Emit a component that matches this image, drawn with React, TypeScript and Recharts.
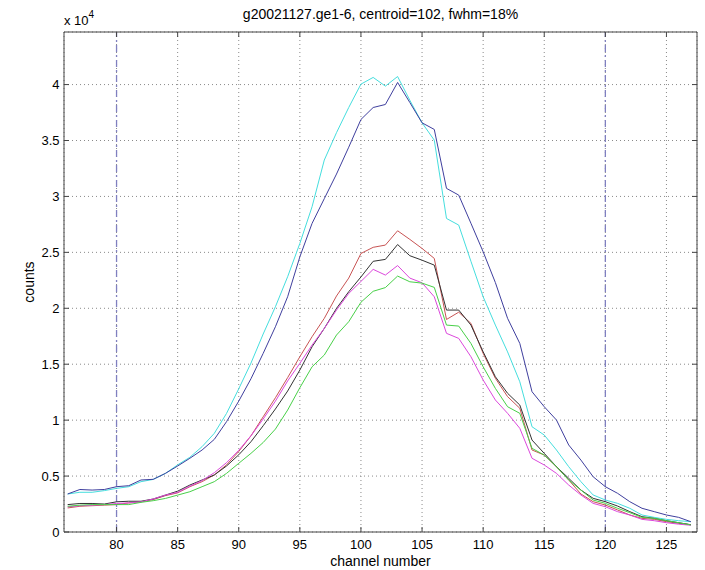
import React from 'react';
import { LineChart, Line, XAxis, YAxis, CartesianGrid, ReferenceLine } from 'recharts';

const channels = [76,77,78,79,80,81,82,83,84,85,86,87,88,89,90,91,92,93,94,95,96,97,98,99,100,101,102,103,104,105,106,107,108,109,110,111,112,113,114,115,116,117,118,119,120,121,122,123,124,125,126,127];

const cyanSeries = [3400,3550,3550,3700,3900,4050,4500,4700,5240,6000,6680,7630,8820,10600,12800,15100,17700,20140,22820,25800,29080,33250,35700,37950,40040,40640,39860,40720,38600,36580,35030,28030,27440,24200,21030,18500,16100,13430,9410,8670,7330,5840,4500,3310,2860,2560,2120,1520,1310,1130,1010,920];
const blueSeries = [3400,3800,3750,3800,4050,4140,4650,4710,5240,5900,6590,7330,8280,9860,11700,13700,15970,18350,21030,24600,27590,29800,32000,34400,36880,37950,38220,40190,38400,36580,35990,30720,30120,27600,25050,22300,19100,16860,12540,11200,10010,7780,6430,4940,4050,3460,2710,2120,1820,1520,1310,920];
const redSeries = [2150,2300,2350,2400,2450,2600,2700,2900,3250,3500,4050,4500,5100,6000,7200,8600,10300,12000,13800,15670,17460,19100,21100,22700,24900,25450,25650,26930,26160,25350,24460,19000,19650,18650,15970,13740,12100,11060,7330,6880,5840,4650,3400,2710,2410,1970,1520,1220,1130,920,770,650];
const blackSeries = [2450,2550,2550,2500,2700,2750,2750,2950,3300,3650,4200,4650,5100,5900,6900,8070,9500,11000,12600,14480,16560,18200,19990,21480,22800,24200,24370,25700,24700,24300,23860,19840,19840,18500,16110,13880,12400,11350,8220,7030,5840,4800,3750,3010,2710,2320,1820,1370,1220,1010,830,650];
const magentaSeries = [2250,2350,2400,2450,2550,2600,2700,2950,3300,3550,4100,4600,5300,6200,7300,8600,10100,11700,13500,15080,16710,18200,19840,21330,22400,23480,22970,23820,22700,22280,21030,17760,17310,15670,13590,11800,10610,9270,6590,5990,5240,4200,3310,2560,2260,1820,1520,1130,1010,830,700,600];
const greenSeries = [2300,2400,2450,2450,2450,2450,2650,2800,3000,3300,3600,4050,4500,5240,6140,7030,8000,9200,10900,12900,14770,15820,17610,18800,20540,21520,21850,22880,22370,22250,21870,18500,18410,16860,14770,12840,11200,10610,7480,6880,5840,4650,3750,2860,2560,2120,1730,1310,1220,1010,830,630];

const xTicks = [80,85,90,95,100,105,110,115,120,125];
const yTicks = [0,5000,10000,15000,20000,25000,30000,35000,40000];
const markerChannels = [80,120];

const title = 'g20021127.ge1-6, centroid=102, fwhm=18%';
const xLabel = 'channel number';
const yLabel = 'counts';

const data = channels.map((ch, i) => ({
  ch,
  cyan: cyanSeries[i],
  blue: blueSeries[i],
  red: redSeries[i],
  black: blackSeries[i],
  magenta: magentaSeries[i],
  green: greenSeries[i],
}));

const series = [
  { key: 'cyan', color: '#45dede' },
  { key: 'blue', color: '#3f3f9e' },
  { key: 'red', color: '#c85454' },
  { key: 'black', color: '#333333' },
  { key: 'magenta', color: '#dc48dc' },
  { key: 'green', color: '#48d048' },
];

const font = '"Liberation Sans", Arial, Helvetica, sans-serif';
const xDomain = [75.7, 127.5];
const yDomain = [0, 44700];
const axisColor = '#444';
const tickStyle = { fontSize: 13, fill: '#000', fontFamily: font };
const EmptyTick = () => <g />;

export default function App() {
  return (
    <div style={{ position: 'absolute', left: 0, top: 0, width: 705, height: 570, background: '#fff', fontFamily: font }}>
      <LineChart width={705} height={570} data={data} margin={{ top: 31, right: 7, left: 0, bottom: 0 }}>
        <CartesianGrid stroke="#8a8a8a" strokeDasharray="1 3" />
        <XAxis dataKey="ch" type="number" domain={xDomain} ticks={xTicks} allowDataOverflow
          height={38} tickSize={-5} tickMargin={13} tick={tickStyle}
          stroke={axisColor} />
        <XAxis xAxisId="top" orientation="top" dataKey="ch" type="number" domain={xDomain} ticks={xTicks} allowDataOverflow
          height={1} tickSize={-5} tickMargin={0} tick={EmptyTick} stroke={axisColor} />
        <YAxis type="number" domain={yDomain} ticks={yTicks} allowDataOverflow width={64}
          tickSize={-5} tickMargin={9.5} tick={tickStyle} stroke={axisColor}
          tickFormatter={(v) => String(v / 10000)} />
        <YAxis yAxisId="right" orientation="right" type="number" domain={yDomain} ticks={yTicks} allowDataOverflow width={1}
          tickSize={-5} tickMargin={0} tick={EmptyTick} stroke={axisColor} />
        {markerChannels.map((m) => (
          <ReferenceLine key={m} x={m} stroke="#8080c0" strokeWidth={1.3} strokeDasharray="7 3 2 3" />
        ))}
        {series.map((s) => (
          <Line key={s.key} dataKey={s.key} stroke={s.color} strokeWidth={1} dot={false}
            isAnimationActive={false} type="linear" />
        ))}
        <Line xAxisId="top" yAxisId="right" dataKey="cyan" stroke="none" dot={false} legendType="none"
          isAnimationActive={false} />
      </LineChart>
      <div style={{ position: 'absolute', left: 64, width: 633, top: 6, textAlign: 'center', fontSize: 14, color: '#000', whiteSpace: 'nowrap' }}>{title}</div>
      <div style={{ position: 'absolute', left: 64, top: 13, fontSize: 13, color: '#000', whiteSpace: 'nowrap' }}>
        x 10<span style={{ position: 'relative', top: -7, fontSize: 10 }}>4</span>
      </div>
      <div style={{ position: 'absolute', left: 64, width: 633, top: 553, textAlign: 'center', fontSize: 14, color: '#000', whiteSpace: 'nowrap' }}>{xLabel}</div>
      <div style={{ position: 'absolute', left: 29, top: 282, fontSize: 14, color: '#000', whiteSpace: 'nowrap', transform: 'translate(-50%, -50%) rotate(-90deg)' }}>{yLabel}</div>
    </div>
  );
}
